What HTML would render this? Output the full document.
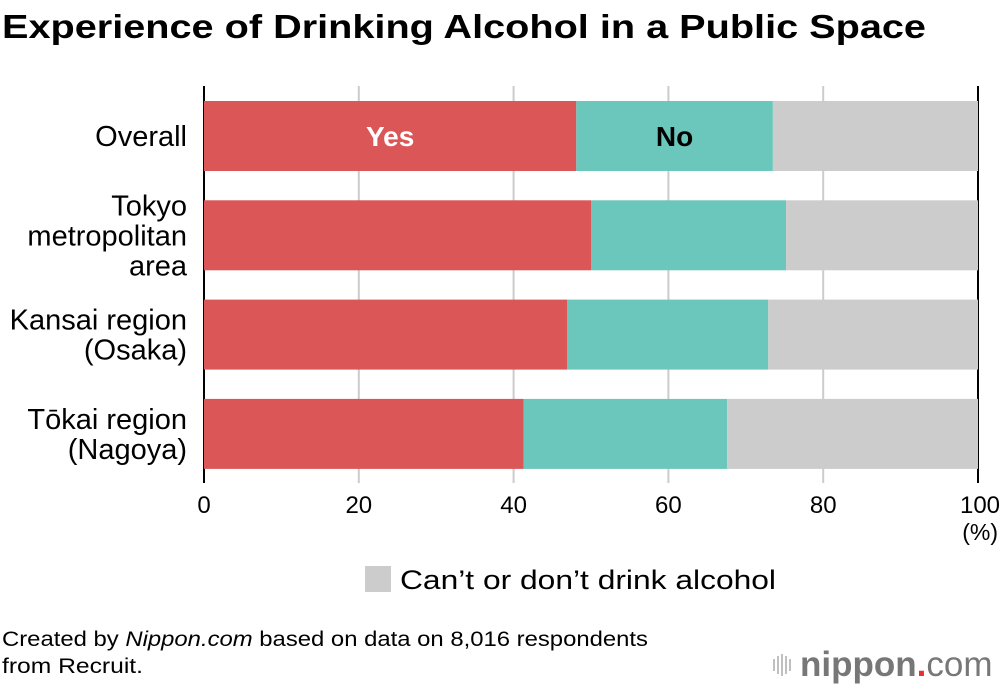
<!DOCTYPE html>
<html><head><meta charset="utf-8"><style>
body{margin:0;width:1000px;height:688px;background:#fff;font-family:"Liberation Sans",sans-serif;overflow:hidden}
</style></head><body>
<svg width="1000" height="688" xmlns="http://www.w3.org/2000/svg" font-family="Liberation Sans, sans-serif">
<text x="2" y="38" font-size="33" font-weight="bold" fill="#000" textLength="924" lengthAdjust="spacingAndGlyphs">Experience of Drinking Alcohol in a Public Space</text>
<g id="grid"></g>
<g id="bars"></g>
<g id="labels"></g>
<rect x="365" y="566" width="26" height="26" fill="#cccccc"/>
<text x="400" y="589" font-size="27" fill="#000" textLength="376" lengthAdjust="spacingAndGlyphs">Can’t or don’t drink alcohol</text>
<text x="998" y="540" font-size="23" fill="#000" text-anchor="end">(%)</text>
<text x="2" y="646" font-size="21" fill="#000" textLength="646" lengthAdjust="spacingAndGlyphs">Created by <tspan font-style="italic">Nippon.com</tspan> based on data on 8,016 respondents</text>
<text x="2" y="673" font-size="21" fill="#000" textLength="141" lengthAdjust="spacingAndGlyphs">from Recruit.</text>
<g>
<g stroke="#aaa" stroke-width="1.5"><line x1="774" y1="659" x2="774" y2="671"/><line x1="778" y1="656" x2="778" y2="674"/><line x1="782" y1="654" x2="782" y2="676"/><line x1="786" y1="656" x2="786" y2="674"/><line x1="790" y1="659" x2="790" y2="671"/></g>
<text x="800" y="676" font-size="35" fill="#777" font-weight="bold">nippon<tspan fill="#e8312f">.</tspan><tspan font-weight="normal">com</tspan></text>
</g>
</svg>
<script>
const categories=[["Overall"],["Tokyo","metropolitan","area"],["Kansai region","(Osaka)"],["Tōkai region","(Nagoya)"]];
const yesValues=[48.1,50.0,46.9,41.3];
const noValues=[25.4,25.2,26.0,26.3];
const tickValues=[0,20,40,60,80,100];
const NS="http://www.w3.org/2000/svg";
const x=v=>204+v*7.74;
const rowTop=i=>101+i*99.3;
const barH=70;
function mk(t,a,p){const e=document.createElementNS(NS,t);for(const k in a)e.setAttribute(k,a[k]);p.appendChild(e);return e;}
const grid=document.getElementById('grid'),bars=document.getElementById('bars'),labels=document.getElementById('labels');
tickValues.forEach(v=>{
  const edge=(v===0||v===100);
  const l=mk('line',{x1:x(v),x2:x(v),y1:86,y2:483,stroke:edge?'#000':'#ccc','stroke-width':2},grid);
  
  
  const t=mk('text',{x:x(v)+(v===100?2:0),y:513,'font-size':24,'text-anchor':'middle',fill:'#000'},labels);
  t.textContent=v;
  
  
});
categories.forEach((c,i)=>{
  const y=rowTop(i),yv=yesValues[i],nv=noValues[i];
  const r1=mk('rect',{x:x(0),y:y,width:x(yv)-x(0),height:barH,fill:'#da5657'},bars);
  
  
  const r2=mk('rect',{x:x(yv),y:y,width:x(yv+nv)-x(yv),height:barH,fill:'#6bc6bb'},bars);
  
  
  const r3=mk('rect',{x:x(yv+nv),y:y,width:x(100)-x(yv+nv),height:barH,fill:'#cccccc'},bars);
  
  
  const lh=30,cy=y+barH/2,start=cy-(c.length-1)*lh/2+10;
  c.forEach((line,j)=>{
    const t=mk('text',{x:187,y:start+j*lh,'font-size':29,'text-anchor':'end',fill:'#000'},labels);
    t.textContent=line;
    
    
  });
  if(i===0){
    const ty=mk('text',{x:(x(0)+x(yv))/2,y:cy+10,'font-size':28,'font-weight':'bold','text-anchor':'middle',fill:'#fff'},labels);
    ty.textContent='Yes';
    
    
    const tn=mk('text',{x:(x(yv)+x(yv+nv))/2,y:cy+10,'font-size':28,'font-weight':'bold','text-anchor':'middle',fill:'#000'},labels);
    tn.textContent='No';
    
    
  }
});
</script>
</body></html>
